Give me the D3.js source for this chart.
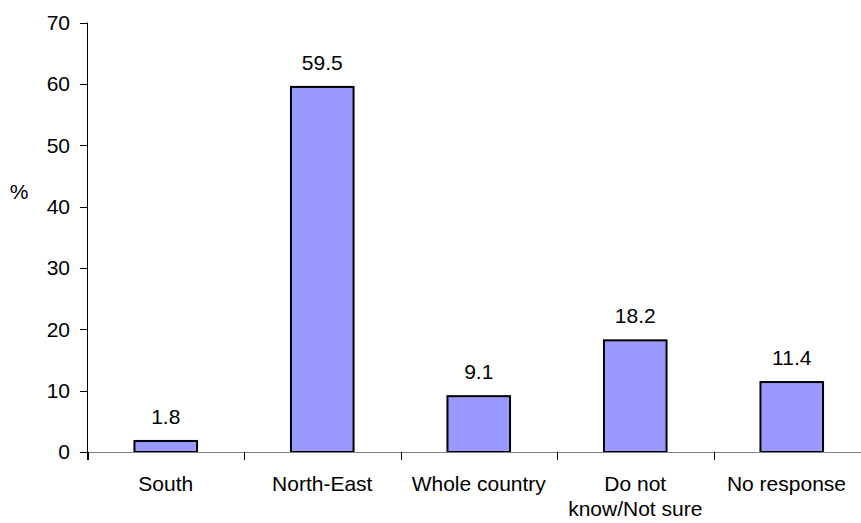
<!DOCTYPE html>
<html><head><meta charset="utf-8">
<script src="https://cdn.jsdelivr.net/npm/d3@7"></script>
<style>body{margin:0;background:#fff}svg{display:block}text{font-family:Arial,"Liberation Sans",sans-serif;fill:#000}</style>
</head><body>
<svg id="c" width="861" height="523"></svg>
<script>
const categories = ["South", "North-East", "Whole country", "Do not\nknow/Not sure", "No response"];
const values = [1.8, 59.5, 9.1, 18.2, 11.4];
const yTicks = [0, 10, 20, 30, 40, 50, 60, 70];
const yLabel = "%";

const svg = d3.select("#c");
const x = d3.scaleBand().domain(categories).range([87.5, 870]).paddingInner(0.6).paddingOuter(0.3);
const y = d3.scaleLinear().domain([0, 70]).range([452, 22.5]);
const fs = 21;
const rightLimit = 846;

// bars
svg.selectAll("rect.bar").data(values).enter().append("rect")
  .attr("x", (d, i) => x(categories[i]))
  .attr("y", d => y(d))
  .attr("width", x.bandwidth())
  .attr("height", d => y(0) - y(d))
  .attr("fill", "#9999FF").attr("stroke", "#000").attr("stroke-width", 2);

// x axis line
svg.append("line").attr("x1", 80).attr("x2", 870).attr("y1", y(0) + 0.5).attr("y2", y(0) + 0.5)
  .attr("stroke", "#808080").attr("stroke-width", 1);
// x ticks at band boundaries
const xb = d3.range(6).map(i => 87.5 + i * (870 - 87.5) / 5);
svg.selectAll("line.xt").data(xb).enter().append("line")
  .attr("x1", d => Math.round(d) + 0.5).attr("x2", d => Math.round(d) + 0.5)
  .attr("y1", y(0)).attr("y2", y(0) + 8).attr("stroke", "#000");

// y axis
svg.append("line").attr("x1", 87.5).attr("x2", 87.5).attr("y1", y(70)).attr("y2", y(0) + 8).attr("stroke", "#000");
svg.selectAll("line.yt").data(yTicks).enter().append("line")
  .attr("x1", 80).attr("x2", 87.5).attr("y1", d => Math.round(y(d)) + 0.5).attr("y2", d => Math.round(y(d)) + 0.5)
  .attr("stroke", "#000");
svg.selectAll("text.yl").data(yTicks).enter().append("text")
  .attr("x", 70).attr("y", d => y(d)).attr("dy", "0.35em").attr("text-anchor", "end")
  .attr("font-size", fs).text(d => d);

// y label
svg.append("text").attr("x", 19).attr("y", 199).attr("text-anchor", "middle").attr("font-size", fs).text(yLabel);

// category labels
categories.forEach(c => {
  const lines = c.split("\n");
  const t = svg.append("text").attr("y", 491).attr("text-anchor", "middle").attr("font-size", fs);
  const cx = x(c) + x.bandwidth() / 2;
  lines.forEach((l, j) => {
    const ts = t.append("tspan").attr("x", cx).attr("dy", j ? 25 : 0).text(l);
    const w = ts.node().getComputedTextLength();
    if (cx + w / 2 > rightLimit) ts.attr("x", rightLimit - w / 2);
  });
});

// value labels
svg.selectAll("text.vl").data(values).enter().append("text")
  .attr("x", (d, i) => x(categories[i]) + x.bandwidth() / 2)
  .attr("y", d => y(d) - 17).attr("text-anchor", "middle").attr("font-size", fs)
  .text(d => d.toFixed(1));
</script>
</body></html>
